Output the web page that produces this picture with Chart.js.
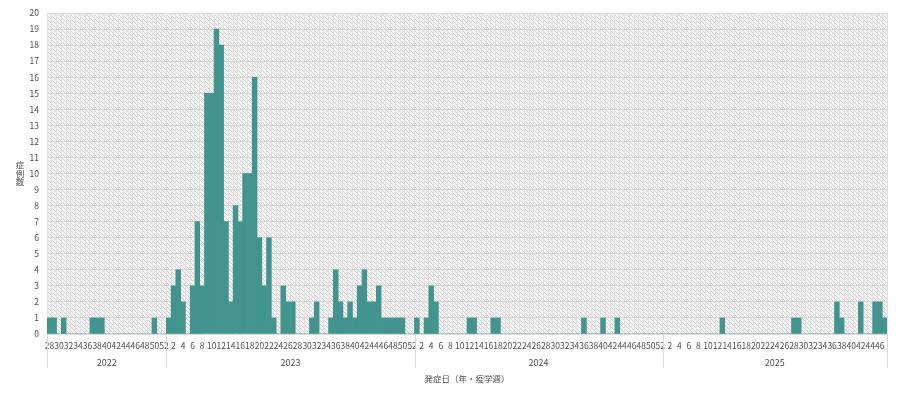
<!DOCTYPE html>
<html lang="ja">
<head>
    <meta charset="UTF-8">
    <title>症例数</title>
    <script src="https://cdn.jsdelivr.net/npm/chart.js"></script>
    <style>
        body { margin: 0; background: #fff; }
        #wrap { width: 900px; height: 398px; }
    </style>
</head>
<body>
    <div id="wrap">
        <canvas id="epiChart" width="900" height="398"></canvas>
    </div>

    <script>
        // years and epidemiological weeks shown on the x axis
        const years = ["2022", "2023", "2024", "2025"];
        const weeks2022 = [28,29,30,31,32,33,34,35,36,37,38,39,40,41,42,43,44,45,46,47,48,49,50,51,52];
        const weeks2023 = [1,2,3,4,5,6,7,8,9,10,11,12,13,14,15,16,17,18,19,20,21,22,23,24,25,26,27,28,29,30,31,32,33,34,35,36,37,38,39,40,41,42,43,44,45,46,47,48,49,50,51,52];
        const weeks2024 = [1,2,3,4,5,6,7,8,9,10,11,12,13,14,15,16,17,18,19,20,21,22,23,24,25,26,27,28,29,30,31,32,33,34,35,36,37,38,39,40,41,42,43,44,45,46,47,48,49,50,51,52];
        const weeks2025 = [1,2,3,4,5,6,7,8,9,10,11,12,13,14,15,16,17,18,19,20,21,22,23,24,25,26,27,28,29,30,31,32,33,34,35,36,37,38,39,40,41,42,43,44,45,46,47];

        // cases per week
        const cases2022 = [1,1,0,1,0,0,0,0,0,1,1,1,0,0,0,0,0,0,0,0,0,0,1,0,0];
        const cases2023 = [1,3,4,2,0,3,7,3,15,15,19,18,7,2,8,7,10,10,16,6,3,6,1,0,3,2,2,0,0,0,1,2,0,0,1,4,2,1,2,1,3,4,2,2,3,1,1,1,1,1,0,0];
        const cases2024 = [1,0,1,3,2,0,0,0,0,0,0,1,1,0,0,0,1,1,0,0,0,0,0,0,0,0,0,0,0,0,0,0,0,0,0,1,0,0,0,1,0,0,1,0,0,0,0,0,0,0,0,0];
        const cases2025 = [0,0,0,0,0,0,0,0,0,0,0,0,1,0,0,0,0,0,0,0,0,0,0,0,0,0,0,1,1,0,0,0,0,0,0,0,2,1,0,0,0,2,0,0,2,2,1];

        const yearWeeks = [weeks2022, weeks2023, weeks2024, weeks2025];
        const labels = yearWeeks.flat().map(String);
        const values = [].concat(cases2022, cases2023, cases2024, cases2025);

        const fontFamily = '"Noto Sans CJK JP", "Noto Sans", sans-serif';
        const textColor = "#4d4d4d";
        const lineColor = "#d9d9d9";

        Chart.defaults.font.family = fontFamily;
        Chart.defaults.color = textColor;

        // hatched fill for the plot area
        function makePattern() {
            const p = document.createElement("canvas");
            p.width = 4;
            p.height = 4;
            const pc = p.getContext("2d");
            pc.fillStyle = "#f5f5f5";
            pc.fillRect(0, 0, 4, 4);
            pc.fillStyle = "#d2d2d2";
            for (let i = 0; i < 4; i++) pc.fillRect(i, i, 1, 1);
            return pc.createPattern(p, "repeat");
        }

        const plotBackground = {
            id: "plotBackground",
            beforeDraw(chart) {
                const { ctx, chartArea } = chart;
                ctx.save();
                ctx.fillStyle = makePattern();
                ctx.fillRect(chartArea.left, chartArea.top, chartArea.right - chartArea.left, chartArea.bottom - chartArea.top);
                ctx.restore();
            }
        };

        // year groups under the week labels, plus the stacked y title
        const yearGroups = {
            id: "yearGroups",
            afterDraw(chart) {
                const { ctx, chartArea } = chart;
                const x = chart.scales.x;
                const step = (x.right - x.left) / labels.length;
                let start = 0;
                ctx.save();
                ctx.strokeStyle = lineColor;
                ctx.lineWidth = 1;
                ctx.fillStyle = textColor;
                ctx.font = "9px " + fontFamily;
                ctx.textAlign = "center";
                ctx.textBaseline = "middle";
                const edges = [start];
                yearWeeks.forEach((w, i) => {
                    const end = start + w.length;
                    const x0 = x.getPixelForValue(start) - step / 2;
                    const x1 = x.getPixelForValue(end - 1) + step / 2;
                    ctx.fillText(years[i], (x0 + x1) / 2, chartArea.bottom + 29);
                    edges.push(end);
                    start = end;
                });
                edges.forEach(e => {
                    const px = Math.round(e === labels.length ? x.right : x.getPixelForValue(e) - step / 2) + 0.5;
                    ctx.beginPath();
                    ctx.moveTo(px, chartArea.bottom);
                    ctx.lineTo(px, chartArea.bottom + 34);
                    ctx.stroke();
                });

                const yTitle = ["症", "例", "数"];
                ctx.font = "8.5px " + fontFamily;
                yTitle.forEach((c, i) => {
                    ctx.fillText(c, 20, 165 + i * 8.5);
                });
                ctx.restore();
            }
        };

        new Chart(document.getElementById("epiChart"), {
            type: "bar",
            data: {
                labels: labels,
                datasets: [{
                    label: "症例数",
                    data: values,
                    backgroundColor: "#42948f",
                    borderWidth: 0,
                    barPercentage: 1.0,
                    categoryPercentage: 1.0
                }]
            },
            options: {
                responsive: false,
                animation: false,
                layout: { padding: { left: 0, top: 10, right: 13, bottom: 0 } },
                plugins: {
                    legend: { display: false },
                    tooltip: { enabled: false }
                },
                scales: {
                    x: {
                        afterFit: s => { s.height = 64; },
                        grid: { color: "#e2e2e2", drawTicks: false, offset: true },
                        border: { color: lineColor },
                        ticks: {
                            autoSkip: false,
                            maxRotation: 0,
                            minRotation: 0,
                            padding: 7,
                            font: { size: 8.5 },
                            callback: (v, i) => (i % 2 === 0 ? labels[i] : "")
                        },
                        title: {
                            display: true,
                            text: "発症日（年・疫学週）",
                            font: { size: 8.5 },
                            padding: { top: 0, bottom: 14 }
                        }
                    },
                    y: {
                        min: 0,
                        max: 20,
                        afterFit: s => { s.width = 47; },
                        grid: { color: lineColor, drawTicks: false },
                        border: { display: false },
                        ticks: {
                            stepSize: 1,
                            padding: 8,
                            font: { size: 8.5 }
                        }
                    }
                }
            },
            plugins: [plotBackground, yearGroups]
        });
    </script>
</body>
</html>
